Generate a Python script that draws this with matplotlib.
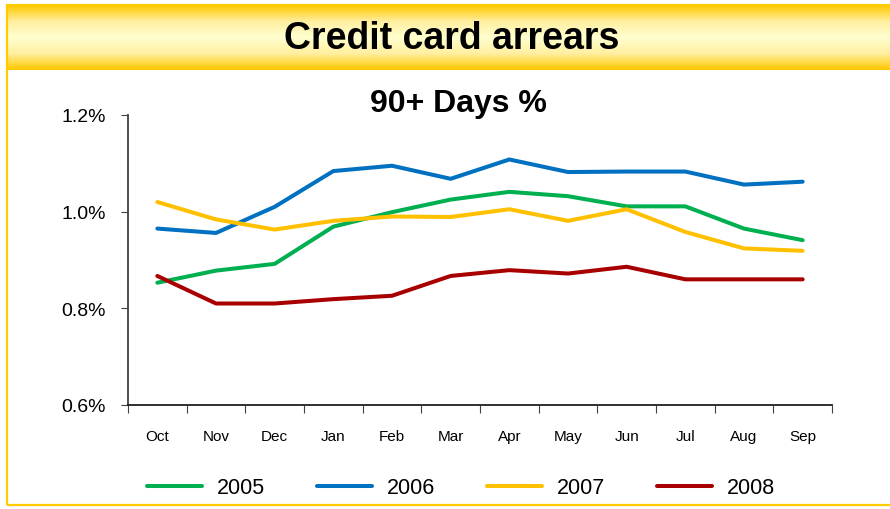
import numpy as np
import matplotlib.pyplot as plt
from matplotlib.colors import LinearSegmentedColormap
from matplotlib.patches import Rectangle

months = ['Oct', 'Nov', 'Dec', 'Jan', 'Feb', 'Mar', 'Apr', 'May', 'Jun', 'Jul', 'Aug', 'Sep']
years = ['2005', '2006', '2007', '2008']
y2005 = [0.853, 0.878, 0.892, 0.969, 0.999, 1.025, 1.041, 1.032, 1.011, 1.011, 0.965, 0.941]
y2006 = [0.965, 0.956, 1.010, 1.084, 1.095, 1.068, 1.108, 1.082, 1.083, 1.083, 1.056, 1.062]
y2007 = [1.020, 0.984, 0.963, 0.981, 0.990, 0.989, 1.005, 0.981, 1.005, 0.958, 0.924, 0.919]
y2008 = [0.867, 0.810, 0.810, 0.819, 0.826, 0.867, 0.879, 0.872, 0.886, 0.860, 0.860, 0.860]
y_ticks = [0.6, 0.8, 1.0, 1.2]
colors = ['#00B050', '#0070C0', '#FFC000', '#A80000']

plt.rcParams['font.family'] = ['Liberation Sans', 'DejaVu Sans']

W, H = 890, 510
fig = plt.figure(figsize=(8.9, 5.1), dpi=100)

# yellow frame
fig.patches.append(Rectangle((7 / W, 1 - 506 / H), 1.0, 500 / H, transform=fig.transFigure,
                             facecolor='none', edgecolor='#FFCC00', linewidth=1.6, zorder=0))

# header band with vertical gradient
band = fig.add_axes([7 / W, 1 - 71 / H, 1 - 7 / W, 65 / H])
cmap = LinearSegmentedColormap.from_list('band', ['#FFC800', '#FFEFA0', '#FFFFD0', '#FFEFA0', '#FFC800'])
band.imshow(np.linspace(0, 1, 100).reshape(-1, 1), aspect='auto', cmap=cmap,
            extent=[0, 1, 0, 1])
band.set_axis_off()
fig.text(452 / W, 1 - 39 / H, 'Credit card arrears', ha='center', va='center',
         fontsize=27, fontweight='bold')

ax = fig.add_axes([128 / W, 1 - 406 / H, 704 / W, 290 / H])
x = np.arange(len(months))
for vals, c, lab in zip([y2005, y2006, y2007, y2008], colors, years):
    ax.plot(x, vals, color=c, linewidth=2.9, label=lab, solid_capstyle='round')

ax.set_xlim(-0.5, len(months) - 0.5)
ax.set_ylim(0.6, 1.2)
ax.set_yticks(y_ticks)
ax.set_yticklabels([f'{v:.1f}%' for v in y_ticks])
ax.set_xticks(np.arange(len(months) + 1) - 0.5)
ax.set_xticklabels([])
ax.set_xticks(x, minor=True)
ax.set_xticklabels(months, minor=True)
ax.tick_params(axis='x', which='major', length=6, color='#404040', direction='out')
ax.tick_params(axis='x', which='minor', length=0, pad=17, labelsize=11)
ax.tick_params(axis='y', length=5, color='#404040', pad=11, labelsize=14)
for s in ['top', 'right']:
    ax.spines[s].set_visible(False)
ax.spines['left'].set_color('#404040')
ax.spines['bottom'].set_color('#202020')
ax.spines['left'].set_linewidth(1.3)
ax.spines['bottom'].set_linewidth(1.3)

fig.text(458 / W, 1 - 104.5 / H, '90+ Days %', ha='center', va='center',
         fontsize=23, fontweight='bold')

fig.legend(loc='center', bbox_to_anchor=(461 / W, 1 - 489 / H), ncol=4, frameon=False,
           fontsize=15.5, handlelength=2.56, handletextpad=0.7, columnspacing=2.4)

fig.savefig('out.png', dpi=100)
